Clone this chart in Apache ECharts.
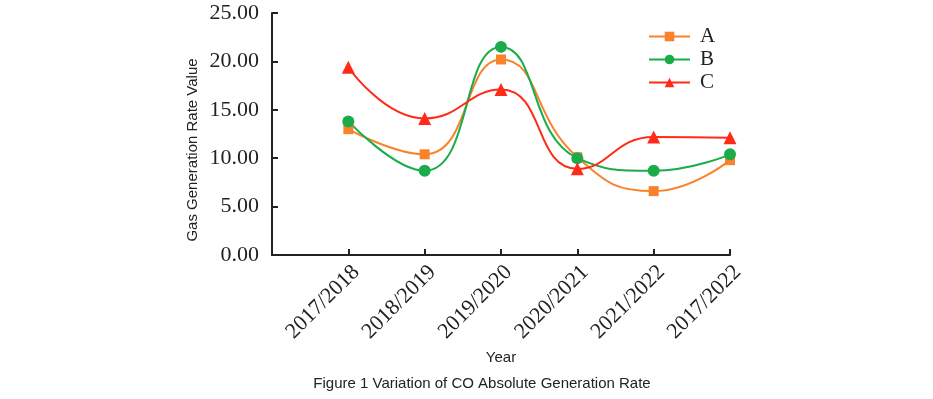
<!DOCTYPE html>
<html>
<head>
<meta charset="utf-8">
<script src="https://cdn.jsdelivr.net/npm/echarts@6/dist/echarts.min.js"></script>
<style>
  html, body { margin: 0; padding: 0; background: #fff; }
  #main { width: 933px; height: 399px; }
</style>
</head>
<body>
<div id="main"></div>
<script>
  // 数据
  var years = ['2017/2018', '2018/2019', '2019/2020', '2020/2021', '2021/2022', '2017/2022'];
  var seriesA = [13.0, 10.4, 20.2, 10.1, 6.6, 9.8];
  var seriesB = [13.8, 8.7, 21.5, 10.0, 8.7, 10.4];
  var seriesC = [19.4, 14.1, 17.1, 8.9, 12.2, 12.1];
  var yTicks = [0, 5, 10, 15, 20, 25];

  function pairs(vals) {
    return vals.map(function (v, i) { return [i + 1, v]; });
  }

  var serif = 'Liberation Serif';
  var sans = 'Liberation Sans';

  var myChart = echarts.init(document.getElementById('main'));

  function line(name, vals, color, symbol, size) {
    return {
      name: name,
      type: 'line',
      smooth: 0.5,
      data: pairs(vals),
      symbol: symbol,
      symbolSize: size,
      itemStyle: { color: color },
      lineStyle: { color: color, width: 2 }
    };
  }

  var option = {
    animation: false,
    backgroundColor: '#fff',
    title: {
      text: 'Figure 1 Variation of CO Absolute Generation Rate',
      left: 477,
      textAlign: 'center',
      top: 371,
      textStyle: { fontFamily: sans, fontSize: 15, fontWeight: 'normal', color: '#222' }
    },
    legend: {
      orient: 'vertical',
      left: 643,
      top: 21,
      itemWidth: 41,
      itemHeight: 12,
      itemGap: 2,
      textStyle: { fontFamily: serif, fontSize: 21, color: '#222', padding: [0, 0, 0, 5] },
      data: ['A', 'B', 'C']
    },
    grid: { left: 272, right: 203, top: 13, bottom: 144 },
    xAxis: {
      type: 'value',
      min: 0,
      max: 6,
      interval: 1,
      name: 'Year',
      nameLocation: 'middle',
      nameGap: 95,
      nameTextStyle: { fontFamily: sans, fontSize: 15, color: '#222' },
      axisLine: { lineStyle: { color: '#222', width: 2 } },
      axisTick: { inside: true, length: 6, lineStyle: { color: '#222', width: 2 } },
      splitLine: { show: false },
      axisLabel: {
        rotate: 45,
        margin: 6,
        verticalAlign: 'top',
        fontFamily: serif,
        fontSize: 22,
        color: '#222',
        formatter: function (v) { return v >= 1 ? years[v - 1] : ''; }
      }
    },
    yAxis: {
      type: 'value',
      min: yTicks[0],
      max: yTicks[yTicks.length - 1],
      interval: 5,
      name: 'Gas Generation Rate Value',
      nameLocation: 'middle',
      nameGap: 72,
      nameTextStyle: { fontFamily: sans, fontSize: 15, color: '#222', padding: [0, 32, 0, 0] },
      axisLine: { show: true, lineStyle: { color: '#222', width: 2 } },
      axisTick: { show: true, inside: true, length: 6, lineStyle: { color: '#222', width: 2 } },
      splitLine: { show: false },
      axisLabel: {
        margin: 13,
        fontFamily: serif,
        fontSize: 22,
        color: '#222',
        formatter: function (v) { return v.toFixed(2); }
      }
    },
    series: [
      line('A', seriesA, '#F9822B', 'rect', 10),
      line('B', seriesB, '#1AAB4B', 'circle', 12),
      line('C', seriesC, '#FF2A17', 'triangle', 13)
    ]
  };

  myChart.setOption(option);
</script>
</body>
</html>
